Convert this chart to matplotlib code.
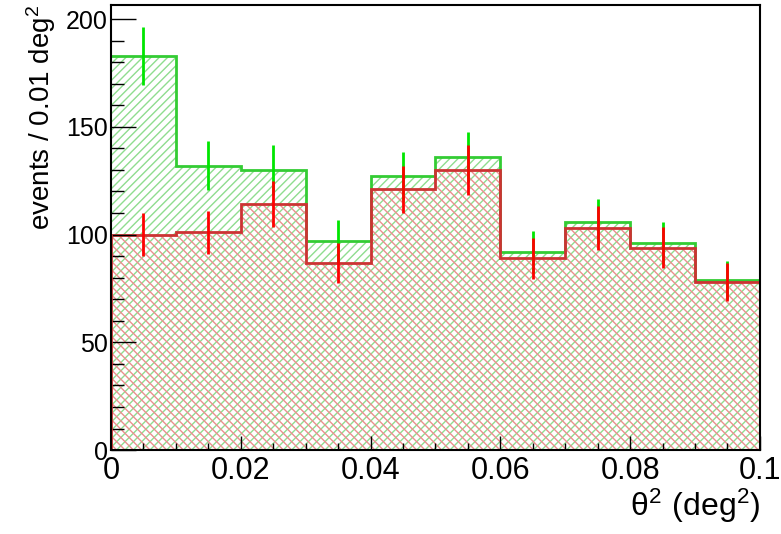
import numpy as np
import matplotlib
matplotlib.use("Agg")
import matplotlib.pyplot as plt
from matplotlib.ticker import MultipleLocator

plt.rcParams['font.family'] = ['Liberation Sans', 'DejaVu Sans']
plt.rcParams['hatch.linewidth'] = 1.0

bin_edges = [0.0, 0.01, 0.02, 0.03, 0.04, 0.05, 0.06, 0.07, 0.08, 0.09, 0.1]
on_counts = [183, 132, 130, 97, 127, 136, 92, 106, 96, 79]
off_counts = [100, 101, 114, 87, 121, 130, 89, 103, 94, 78]

edges = np.array(bin_edges)
centers = 0.5 * (edges[:-1] + edges[1:])
on = np.array(on_counts, float)
off = np.array(off_counts, float)

fig = plt.figure(figsize=(7.81, 5.34), dpi=100)
ax = fig.add_axes([0.142, 0.157, 0.831, 0.8336])

# green (on) hatched fill and outline
ax.stairs(on, edges, fill=True, facecolor='none', edgecolor='#8fdc8f',
          hatch='////', linewidth=0, baseline=0)
ax.stairs(on, edges, color='#33cc33', linewidth=2, baseline=None)
# red (off) hatched fill and outline
ax.stairs(off, edges, fill=True, facecolor='none', edgecolor='#eb8f8f',
          hatch='\\\\\\\\', linewidth=0, baseline=0)
ax.stairs(off, edges, color='#cc3333', linewidth=2, baseline=None)
ax.plot([edges[-1], edges[-1]], [0, off[-1]], color='#cc3333', lw=2)
ax.plot([edges[0], edges[0]], [0, off[0]], color='#cc3333', lw=2)

ax.errorbar(centers, on, yerr=np.sqrt(on), fmt='none', ecolor='#00e600',
            elinewidth=2, capsize=0)
ax.errorbar(centers, off, yerr=np.sqrt(off), fmt='none', ecolor='#ff0000',
            elinewidth=2, capsize=0)

ax.set_xlim(0, 0.1)
ax.set_ylim(0, 206.5)

ax.xaxis.set_major_locator(MultipleLocator(0.02))
ax.xaxis.set_minor_locator(MultipleLocator(0.005))
ax.yaxis.set_major_locator(MultipleLocator(50))
ax.yaxis.set_minor_locator(MultipleLocator(10))
ax.tick_params(axis='both', which='both', direction='in', top=False, right=False)
ax.tick_params(axis='x', which='major', length=10, width=1, labelsize=22, pad=4)
ax.tick_params(axis='x', which='minor', length=5, width=1)
ax.tick_params(axis='y', which='major', length=18, width=1, labelsize=18, pad=2)
ax.tick_params(axis='y', which='minor', length=9, width=1)
ax.set_xticks([0, 0.02, 0.04, 0.06, 0.08, 0.1])
ax.set_xticklabels(['0', '0.02', '0.04', '0.06', '0.08', '0.1'])
ax.set_yticks([0, 50, 100, 150, 200])
ax.set_yticklabels(['0', '50', '100', '150', '200'])

for s in ax.spines.values():
    s.set_linewidth(1.5)

ax.set_xlabel(r'$\mathregular{\theta^{2}\ (deg^{2})}$', fontsize=23, loc='right',
              labelpad=1)
ax.set_ylabel(r'events / 0.01 deg$\mathregular{^{2}}$', fontsize=20, loc='top',
              labelpad=6)

fig.savefig('out.png', dpi=100)
